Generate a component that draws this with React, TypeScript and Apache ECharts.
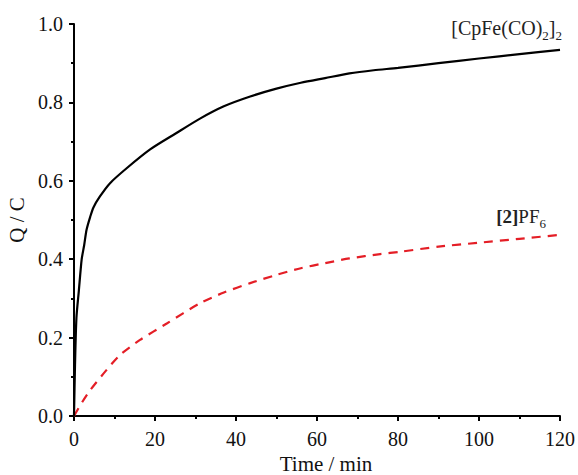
import React, { useEffect, useRef } from "react";
import * as echarts from "echarts";

const blackT = [0, 0.25, 0.6, 1.2, 1.9, 2.5, 3.1, 4, 4.8, 6.4, 8.9, 13, 18.8, 25, 31, 37, 43.5, 50, 56, 62, 68, 74, 80, 90, 100, 110, 120];
const blackQ = [0, 0.13, 0.25, 0.32, 0.4, 0.435, 0.475, 0.508, 0.532, 0.56, 0.594, 0.632, 0.68, 0.72, 0.758, 0.79, 0.815, 0.835, 0.85, 0.862, 0.874, 0.882, 0.888, 0.9, 0.912, 0.923, 0.934];

const redT = [0, 2, 4, 8, 11.4, 16.3, 22.9, 31, 37, 43.5, 50, 56, 62, 68, 75.6, 80.5, 90, 100, 110, 120];
const redQ = [0, 0.035, 0.066, 0.117, 0.156, 0.194, 0.236, 0.287, 0.315, 0.339, 0.36, 0.377, 0.39, 0.402, 0.413, 0.419, 0.432, 0.442, 0.452, 0.462];

const xTicks = { min: 0, max: 120, interval: 20 };
const yTicks = { min: 0, max: 1, interval: 0.2 };

const FONT = "Liberation Serif";

export default function App() {
  const ref = useRef<HTMLDivElement>(null);
  useEffect(() => {
    if (!ref.current) return;
    const chart = echarts.init(ref.current, null, { renderer: "svg" });
    const axisCommon = {
      axisLine: { show: true, lineStyle: { color: "#000", width: 2 } },
      axisTick: { show: true, inside: false, length: 5, lineStyle: { color: "#000", width: 2 } },
      minorTick: { show: true, splitNumber: 2, length: 3, lineStyle: { color: "#000", width: 2 } },
      splitLine: { show: false },
      minorSplitLine: { show: false },
    };
    chart.setOption({
      animation: false,
      backgroundColor: "#fff",
      textStyle: { fontFamily: FONT },
      grid: { left: 74, top: 24, width: 486, height: 392, containLabel: false, outerBoundsMode: "none" },
      xAxis: {
        type: "value",
        ...xTicks,
        ...axisCommon,
        name: "Time / min",
        nameLocation: "middle",
        nameGap: 36,
        nameTextStyle: { fontFamily: FONT, fontSize: 21, color: "#111", padding: [0, 0, 0, 18] },
        axisLabel: { fontFamily: FONT, fontSize: 20, color: "#111", margin: 13 },
      },
      yAxis: {
        type: "value",
        ...yTicks,
        ...axisCommon,
        name: "Q / C",
        nameLocation: "middle",
        nameGap: 39,
        nameTextStyle: { fontFamily: FONT, fontSize: 21, color: "#111" },
        axisLabel: {
          fontFamily: FONT,
          fontSize: 20,
          color: "#111",
          margin: 11,
          formatter: (v: number) => v.toFixed(1),
        },
      },
      series: [
        {
          type: "line",
          data: blackT.map((t, i) => [t, blackQ[i]]),
          showSymbol: false,
          smooth: 0.25,
          lineStyle: { color: "#000", width: 2.2 },
          z: 3,
        },
        {
          type: "line",
          data: redT.map((t, i) => [t, redQ[i]]),
          showSymbol: false,
          smooth: 0.25,
          lineStyle: { color: "#e41e26", width: 2.2, type: [9, 7] },
          z: 2,
        },
      ],
      graphic: [
        {
          type: "text",
          right: 16,
          top: 18,
          style: {
            text: "[CpFe(CO){s|2}]{s|2}",
            font: `20px ${FONT}`,
            fill: "#222",
            rich: {
              s: { fontSize: 13, fontFamily: FONT, fill: "#222", verticalAlign: "bottom", lineHeight: 28 },
            },
          },
        },
        {
          type: "text",
          right: 32,
          top: 207,
          style: {
            text: "{b|[2]}PF{s|6}",
            font: `19px ${FONT}`,
            fill: "#222",
            rich: {
              b: { fontSize: 19, fontFamily: FONT, fontWeight: "bold", fill: "#222" },
              s: { fontSize: 13, fontFamily: FONT, fill: "#222", verticalAlign: "bottom", lineHeight: 27 },
            },
          },
        },
      ],
    });
    return () => chart.dispose();
  }, []);
  return <div ref={ref} style={{ width: 578, height: 475, position: "absolute", left: 0, top: 0 }} />;
}
